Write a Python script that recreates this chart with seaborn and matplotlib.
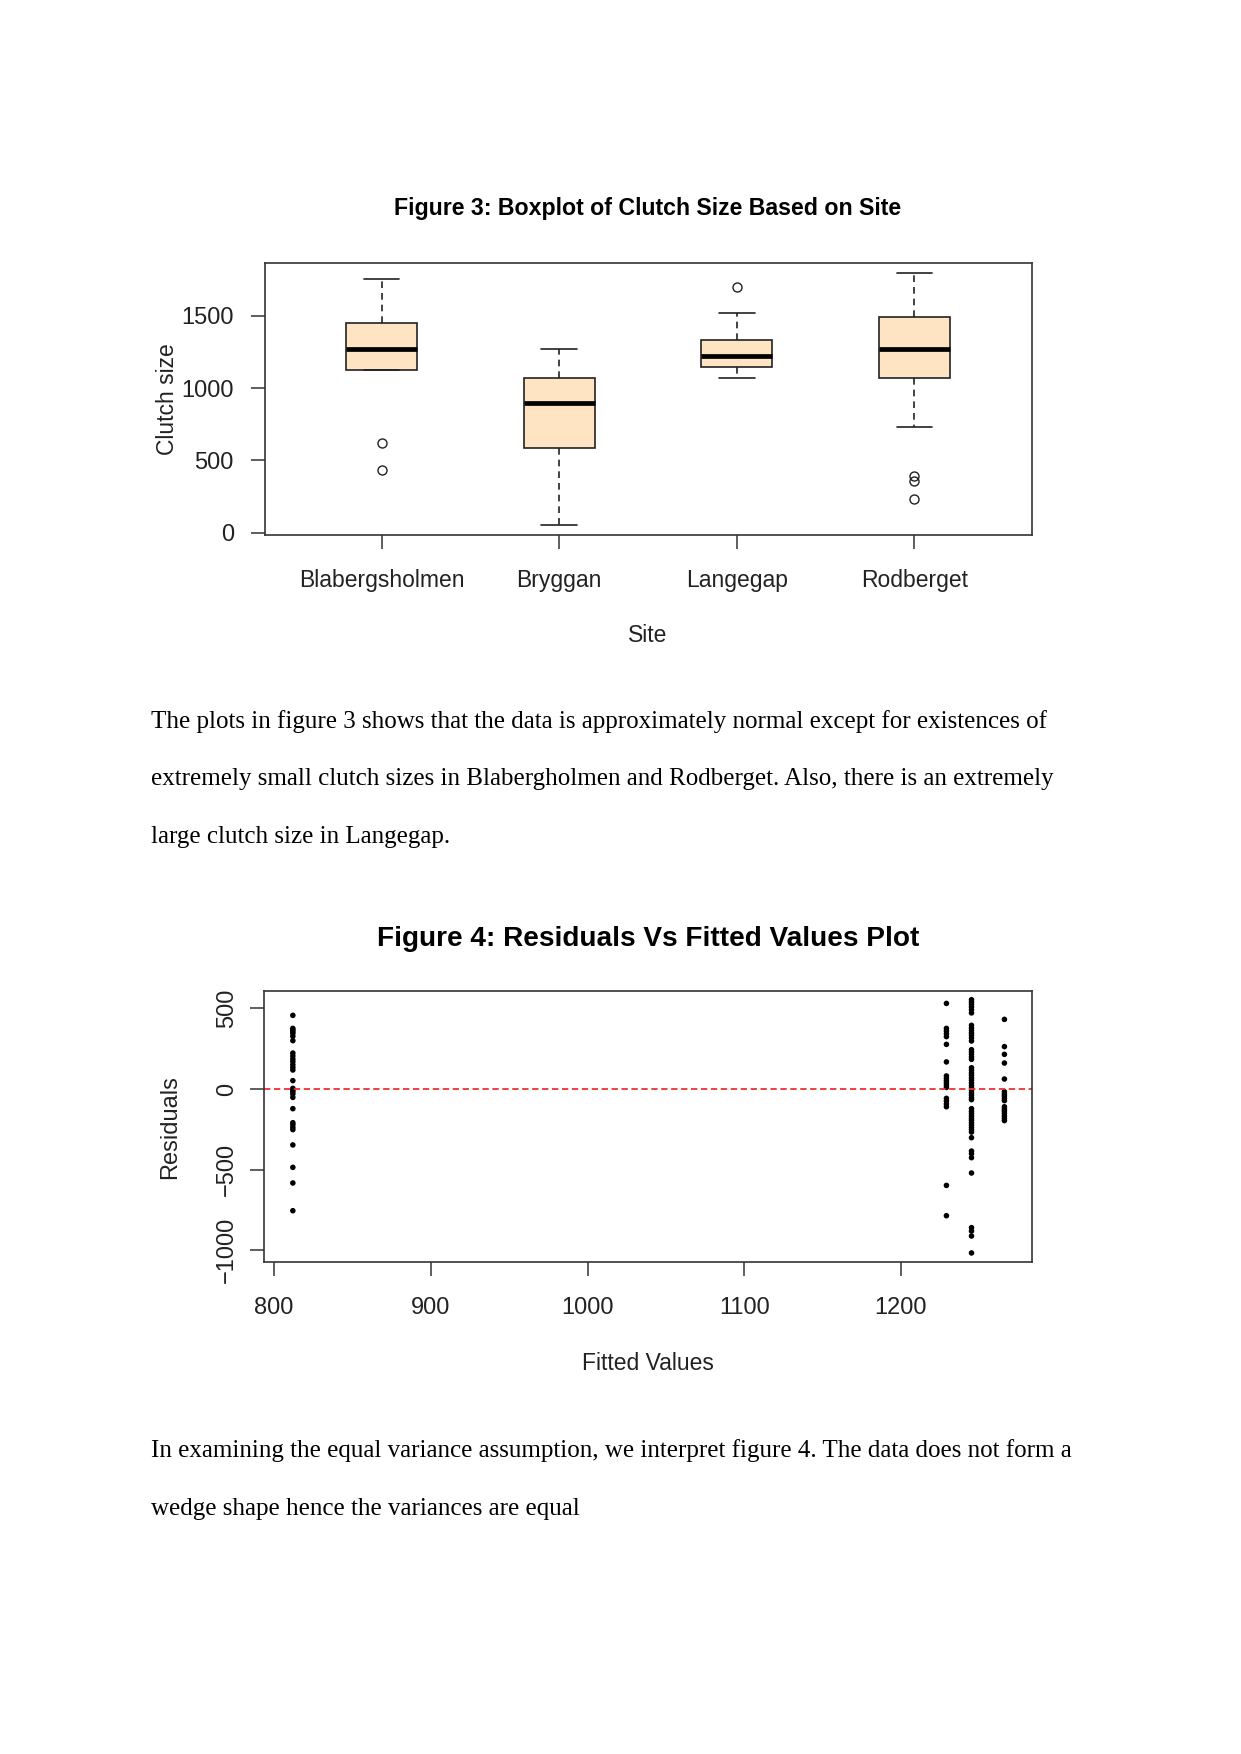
import pandas as pd
import matplotlib
matplotlib.use("Agg")
import matplotlib.pyplot as plt
import seaborn as sns

# ---- Figure 3 data: box summaries ----
sites = ["Blabergsholmen", "Bryggan", "Langegap", "Rodberget"]
whisker_lo = [1125, 53, 1070, 729]
q1s = [1125, 586, 1148, 1072]
medians = [1270, 899, 1220, 1272]
q3s = [1450, 1068, 1330, 1492]
whisker_hi = [1754, 1270, 1521, 1794]
low_outliers = [[432, 623], [], [], [235, 355, 395]]
high_outliers = [[], [], [1697], []]

# ---- Figure 4 data: residuals by fitted value ----
fitted_values = [812, 1229, 1245, 1266]
resid_bryggan = [457, 376, 366, 356, 345, 327, 300, 223, 205, 186, 170, 151, 134, 118,
                 52, 4, -6, -17, -31, -52, -122, -209, -221, -238, -252, -347, -486,
                 -583, -755]
resid_blaberg = [531, 376, 360, 343, 325, 277, 168, 81, 66, 52, 39, 25, 10, -58, -74,
                 -93, -110, -598, -786]
resid_rodberget = [554, 540, 525, 509, 492, 472, 395, 378, 364, 347, 333, 316, 298, 244,
                   230, 215, 199, 184, 132, 116, 99, 85, 68, 54, 37, 21, 6, -8, -25, -39,
                   -54, -66, -122, -139, -153, -168, -182, -194, -209, -223, -238, -252,
                   -267, -302, -385, -401, -426, -521, -860, -881, -912, -1017]
resid_langegap = [432, 263, 215, 161, 62, -17, -31, -43, -58, -72, -110, -124, -136,
                  -151, -168, -182, -196]

para1 = ["The plots in figure 3 shows that the data is approximately normal except for existences of",
         "extremely small clutch sizes in Blabergholmen and Rodberget. Also, there is an extremely",
         "large clutch size in Langegap."]
para2 = ["In examining the equal variance assumption, we interpret figure 4. The data does not form a",
         "wedge shape hence the variances are equal"]


def box_values(low_out, wlo, q1, med, q3, whi, high_out):
    # values whose quartiles / whiskers reproduce the summary exactly
    low = list(low_out) + ([wlo] if wlo < q1 else [])
    high = ([whi] if whi > q3 else []) + list(high_out)
    m = max(len(low), len(high), 1)
    return low + [q1] * (2 * m - len(low)) + [med] * m + [q3] * (m + 1 - len(high)) + high


rows = []
for i, s in enumerate(sites):
    for v in box_values(low_outliers[i], whisker_lo[i], q1s[i], medians[i], q3s[i],
                        whisker_hi[i], high_outliers[i]):
        rows.append({"Site": s, "Clutch size": v})
box_df = pd.DataFrame(rows)

resid_groups = [resid_bryggan, resid_blaberg, resid_rodberget, resid_langegap]
res_df = pd.DataFrame({
    "fitted": [f for f, g in zip(fitted_values, resid_groups) for _ in g],
    "resid": [r for g in resid_groups for r in g],
})

sns.set_style("white")
plt.rcParams["font.family"] = ["Liberation Sans", "DejaVu Sans"]

W, H = 1241, 1754
fig = plt.figure(figsize=(W / 100, H / 100), dpi=100)
ink = "#222222"


def px_rect(x0, y0, x1, y1):
    return [x0 / W, 1 - y1 / H, (x1 - x0) / W, (y1 - y0) / H]


def style_axes(ax):
    for sp in ax.spines.values():
        sp.set_color("#333333")
        sp.set_linewidth(1.2)
    ax.tick_params(direction="out", length=10, width=1.1, color="#333333",
                   labelsize=17, labelcolor=ink, left=True, bottom=True)


# ---------------- Figure 3 ----------------
ax1 = fig.add_axes(px_rect(264.5, 263.3, 1031.5, 535.3))
sns.boxplot(data=box_df, x="Site", y="Clutch size", order=sites, width=0.4,
            color="bisque", saturation=1, linecolor=ink, linewidth=1.2, whis=1.5,
            fliersize=6.5,
            medianprops={"color": "black", "linewidth": 3.4},
            whiskerprops={"linestyle": (0, (4, 3))},
            flierprops={"marker": "o", "markerfacecolor": "none",
                        "markeredgecolor": ink, "markeredgewidth": 1.0},
            ax=ax1)
ax1.set_xlim(-0.66, 3.66)
ax1.set_ylim(-18, 1863)
ax1.set_yticks([0, 500, 1000, 1500])
style_axes(ax1)
ax1.tick_params(axis="x", pad=14, labelsize=16.5)
ax1.tick_params(axis="y", pad=12)
ax1.set_xlabel("Site", fontsize=16.5, color=ink, labelpad=23.5)
ax1.set_ylabel("Clutch size", fontsize=16.5, color=ink, labelpad=2)
fig.text(648 / W, 1 - 215 / H, "Figure 3: Boxplot of Clutch Size Based on Site",
         ha="center", va="baseline", fontsize=16.7, fontweight="bold", color="black")

# ---------------- Figure 4 ----------------
ax2 = fig.add_axes(px_rect(264, 991, 1032, 1262.3))
sns.scatterplot(data=res_df, x="fitted", y="resid", color="black", s=16,
                edgecolor="none", ax=ax2)
ax2.axhline(0, color="#f03030", linewidth=1.3, linestyle=(0, (3.5, 2)))
ax2.set_xlim(793.6, 1283.6)
ax2.set_ylim(-1075, 608)
ax2.set_xticks([800, 900, 1000, 1100, 1200])
ax2.set_yticks([-1000, -500, 0, 500])
style_axes(ax2)
ax2.tick_params(axis="x", pad=15)
ax2.tick_params(axis="y", pad=8.5)
for lab in ax2.get_yticklabels():
    lab.set_rotation(90)
    lab.set_va("center")
ax2.set_xlabel("Fitted Values", fontsize=16.5, color=ink, labelpad=24)
ax2.set_ylabel("Residuals", fontsize=17, color=ink, labelpad=25.5)
fig.text(648 / W, 1 - 945.5 / H, "Figure 4: Residuals Vs Fitted Values Plot",
         ha="center", va="baseline", fontsize=20.2, fontweight="bold", color="black")

# ---------------- body text ----------------
for i, line in enumerate(para1):
    fig.text(151 / W, 1 - (728 + 57.5 * i) / H, line, ha="left", va="baseline",
             fontsize=18, family=["Liberation Serif", "DejaVu Serif"], color="black")
for i, line in enumerate(para2):
    fig.text(151 / W, 1 - (1457.5 + 57.5 * i) / H, line, ha="left", va="baseline",
             fontsize=18, family=["Liberation Serif", "DejaVu Serif"], color="black")

fig.savefig("out.png", dpi=100, facecolor="white")
